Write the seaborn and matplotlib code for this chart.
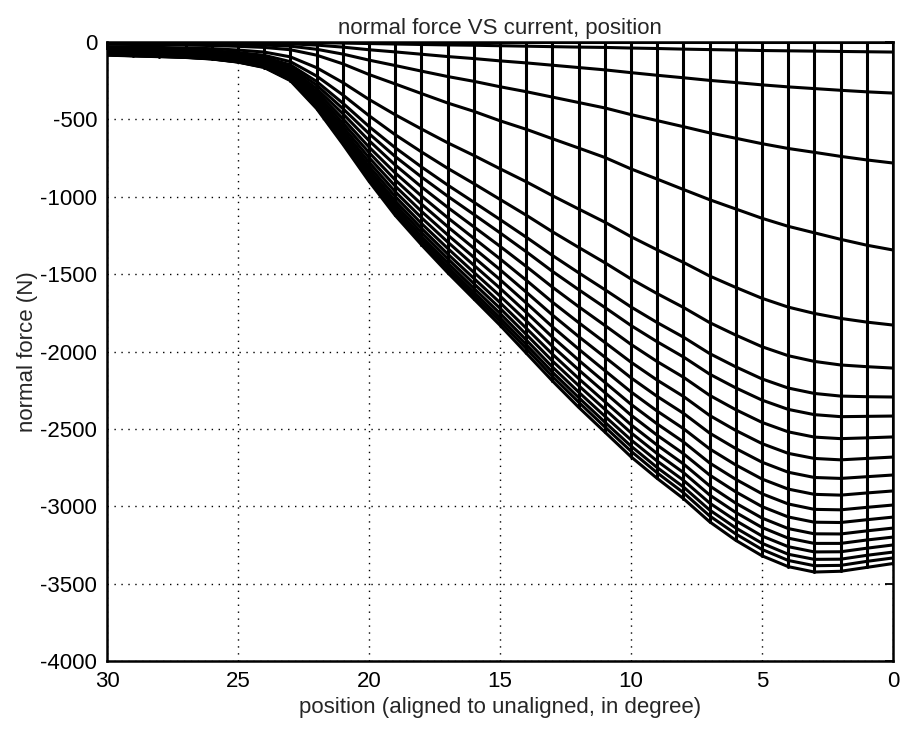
import matplotlib
matplotlib.use("Agg")
import matplotlib.pyplot as plt
import pandas as pd
import seaborn as sns

# rotor position, degrees (0 = aligned)
position = [0, 1, 2, 3, 4, 5, 6, 7, 8, 9, 10, 11, 12, 13, 14, 15,
            16, 17, 18, 19, 20, 21, 22, 23, 24, 25, 26, 27, 28, 29, 30]

# normal force (N) versus position, one list per current step
f00 = [0, 0, 0, 0, 0, 0, 0, 0, 0, 0, 0, 0, 0, 0, 0, 0,
       0, 0, 0, 0, 0, 0, 0, 0, 0, 0, 0, 0, 0, 0, 0]
f01 = [-65, -63, -61, -59, -57, -55, -52, -49, -46, -42, -39, -35, -33, -30, -27, -24,
       -21, -19, -16, -13, -10, -7, -4, -2, -2, -1, -1, -1, -1, -1, -1]
f02 = [-330, -322, -312, -301, -290, -277, -262, -248, -231, -215, -198, -180, -165, -150, -135, -122,
       -107, -94, -79, -64, -50, -33, -20, -12, -8, -7, -5, -5, -4, -4, -3]
f03 = [-782, -762, -739, -713, -688, -657, -622, -587, -547, -508, -469, -426, -391, -356, -321, -289,
       -254, -223, -188, -152, -117, -78, -47, -27, -20, -16, -13, -11, -9, -9, -8]
f04 = [-1344, -1313, -1275, -1233, -1191, -1139, -1079, -1019, -953, -886, -820, -746, -685, -625, -564, -509,
       -448, -394, -333, -271, -210, -141, -85, -50, -35, -28, -23, -20, -17, -16, -15]
f05 = [-1829, -1810, -1786, -1754, -1713, -1656, -1586, -1512, -1424, -1343, -1258, -1164, -1079, -993, -903, -819,
       -733, -651, -562, -470, -371, -262, -166, -96, -65, -52, -43, -39, -35, -33, -31]
f06 = [-2107, -2098, -2087, -2064, -2027, -1969, -1894, -1813, -1715, -1626, -1531, -1426, -1327, -1226, -1119, -1017,
       -915, -816, -710, -599, -476, -342, -220, -127, -86, -68, -57, -51, -47, -45, -42]
f07 = [-2294, -2292, -2288, -2271, -2236, -2177, -2099, -2013, -1907, -1813, -1712, -1600, -1491, -1379, -1261, -1147,
       -1035, -924, -807, -683, -546, -395, -255, -148, -99, -79, -66, -60, -55, -53, -49]
f08 = [-2417, -2419, -2421, -2408, -2374, -2314, -2235, -2146, -2035, -1937, -1832, -1715, -1600, -1482, -1355, -1233,
       -1114, -996, -872, -740, -592, -430, -278, -161, -107, -86, -72, -65, -60, -58, -54]
f09 = [-2552, -2558, -2563, -2553, -2519, -2458, -2376, -2283, -2166, -2065, -1954, -1831, -1710, -1584, -1450, -1320,
       -1194, -1068, -936, -795, -637, -463, -301, -174, -116, -92, -78, -70, -65, -63, -58]
f10 = [-2682, -2691, -2700, -2691, -2658, -2595, -2510, -2413, -2290, -2185, -2069, -1941, -1813, -1681, -1539, -1401,
       -1268, -1135, -995, -846, -679, -495, -321, -186, -124, -98, -83, -75, -70, -67, -62]
f11 = [-2798, -2809, -2820, -2814, -2780, -2715, -2627, -2527, -2399, -2290, -2170, -2036, -1903, -1764, -1616, -1471,
       -1332, -1193, -1047, -891, -714, -522, -339, -196, -130, -104, -88, -79, -74, -71, -66]
f12 = [-2901, -2914, -2928, -2923, -2889, -2824, -2733, -2629, -2498, -2385, -2261, -2123, -1984, -1840, -1686, -1535,
       -1391, -1246, -1094, -931, -747, -546, -356, -206, -137, -109, -92, -83, -77, -75, -69]
f13 = [-2992, -3007, -3023, -3020, -2985, -2919, -2826, -2720, -2584, -2468, -2341, -2199, -2056, -1907, -1747, -1591,
       -1442, -1292, -1135, -967, -776, -568, -370, -214, -142, -113, -95, -87, -81, -78, -72]
f14 = [-3070, -3087, -3105, -3103, -3069, -3002, -2907, -2798, -2660, -2541, -2411, -2265, -2118, -1966, -1801, -1641,
       -1488, -1333, -1172, -998, -802, -587, -383, -221, -147, -117, -99, -90, -84, -80, -75]
f15 = [-3141, -3159, -3179, -3178, -3144, -3076, -2980, -2868, -2726, -2605, -2473, -2324, -2174, -2017, -1849, -1684,
       -1527, -1369, -1203, -1026, -824, -604, -394, -227, -151, -120, -101, -92, -86, -83, -77]
f16 = [-3199, -3218, -3240, -3240, -3206, -3137, -3040, -2927, -2782, -2660, -2525, -2373, -2220, -2061, -1889, -1720,
       -1561, -1399, -1230, -1049, -843, -618, -403, -233, -155, -123, -104, -94, -88, -85, -79]
f17 = [-3250, -3271, -3294, -3295, -3261, -3192, -3093, -2979, -2832, -2708, -2571, -2418, -2262, -2100, -1925, -1753,
       -1591, -1426, -1255, -1070, -860, -631, -411, -238, -158, -125, -106, -97, -90, -87, -80]
f18 = [-3296, -3317, -3342, -3343, -3310, -3239, -3140, -3024, -2875, -2750, -2611, -2456, -2297, -2133, -1955, -1781,
       -1617, -1449, -1275, -1087, -874, -641, -419, -242, -160, -128, -108, -98, -92, -88, -82]
f19 = [-3334, -3356, -3382, -3384, -3350, -3279, -3179, -3062, -2912, -2784, -2644, -2487, -2327, -2161, -1981, -1805,
       -1638, -1468, -1292, -1102, -886, -650, -424, -245, -163, -129, -109, -99, -93, -89, -83]
f20 = [-3370, -3395, -3420, -3425, -3390, -3320, -3220, -3100, -2950, -2820, -2680, -2520, -2360, -2190, -2010, -1830,
       -1660, -1490, -1310, -1120, -900, -660, -430, -250, -165, -130, -110, -100, -95, -90, -85]

curves = [f00, f01, f02, f03, f04, f05, f06, f07, f08, f09, f10,
          f11, f12, f13, f14, f15, f16, f17, f18, f19, f20]

x_ticks = [30, 25, 20, 15, 10, 5, 0]
y_ticks = [0, -500, -1000, -1500, -2000, -2500, -3000, -3500, -4000]

rows = []
for step, values in enumerate(curves):
    for pos, force in zip(position, values):
        rows.append({"step": step, "position": pos, "force": force})
mesh = pd.DataFrame(rows)

sns.set_style("white")
plt.rcParams["font.family"] = ["Liberation Sans", "DejaVu Sans"]
plt.rcParams["axes.unicode_minus"] = False

fig = plt.figure(figsize=(9, 7.33), dpi=100)
ax = fig.add_axes([0.1189, 0.0982, 0.8733, 0.8445])

# opaque mesh surface hides the grid behind it
ax.fill_between(position, f20, f00, color="white", zorder=1, lw=0)

line_kw = dict(color="black", linewidth=2.2, estimator=None, legend=False, ax=ax)
# constant-current curves
sns.lineplot(data=mesh, x="position", y="force", units="step", sort=True, **line_kw)
# constant-position lines
sns.lineplot(data=mesh.sort_values(["position", "step"]), x="position", y="force",
             units="position", sort=False, **line_kw)
for ln in ax.lines:
    ln.set_zorder(2)
    ln.set_solid_joinstyle("round")

ax.set_xlim(30, 0)
ax.set_ylim(-4000, 0)
ax.set_xticks(x_ticks)
ax.set_yticks(y_ticks)
ax.set_xticklabels([str(t) for t in x_ticks])
ax.set_yticklabels([str(t) for t in y_ticks])
ax.grid(True, linestyle=(0, (1, 4)), color="black", linewidth=1.0)
ax.set_axisbelow(True)
ax.tick_params(direction="in", length=6, width=1.3, top=True, right=True,
               labelsize=16, pad=7, colors="black")
for sp in ax.spines.values():
    sp.set_visible(True)
    sp.set_color("black")
    sp.set_linewidth(1.8)

ax.set_xlabel("position (aligned to unaligned, in degree)", fontsize=16, labelpad=4)
ax.set_ylabel("normal force (N)", fontsize=16, labelpad=2)
ax.set_title("normal force VS current, position", fontsize=16, pad=6)

fig.savefig("out.png", dpi=100)
